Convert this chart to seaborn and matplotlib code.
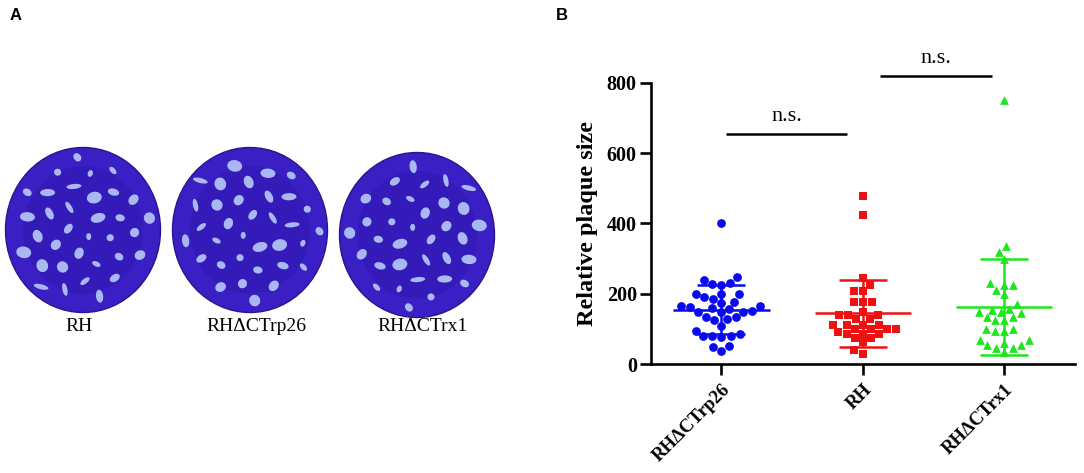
import numpy as np
import pandas as pd
import matplotlib
matplotlib.use("Agg")
import matplotlib.pyplot as plt
from matplotlib.patches import Ellipse
import seaborn as sns

# ---------------- data ----------------
categories = ["RH\u0394CTrp26", "RH", "RH\u0394CTrx1"]
blue_values = [400, 247, 240, 230, 228, 225, 200, 200, 200, 190, 185, 178, 175,
               165, 165, 162, 160, 158, 152, 150, 150, 148, 135, 133, 130, 125,
               110, 95, 85, 80, 80, 80, 78, 53, 48, 38]
red_values = [478, 425, 245, 225, 208, 208, 178, 178, 178, 148, 140, 140, 140,
              128, 128, 112, 112, 112, 112, 100, 100, 100, 100, 92, 87, 87, 87,
              75, 75, 62, 40, 30]
green_values = [750, 335, 320, 300, 230, 225, 225, 210, 200, 170, 158, 155, 148,
                148, 145, 135, 135, 125, 125, 100, 100, 95, 95, 68, 68, 60, 55,
                55, 45, 45, 35]
group_values = [blue_values, red_values, green_values]
colors = ["#0a0aee", "#ee1111", "#1ee61e"]
markers = ["o", "s", "^"]
y_ticks = [0, 200, 400, 600, 800]
sig_x = [(0.03, 0.89), (1.12, 1.91)]
sig_y = [655, 820]
sig_labels = ["n.s.", "n.s."]
plate_labels = ["RH", "RH\u0394CTrp26", "RH\u0394CTrx1"]

df = pd.DataFrame({
    "group": np.concatenate([[c] * len(v) for c, v in zip(categories, group_values)]),
    "value": np.concatenate(group_values).astype(float),
})

# ---------------- figure ----------------
sns.set_theme(style="white")
plt.rcParams["font.family"] = ["Liberation Serif", "DejaVu Serif"]
plt.rcParams["text.color"] = "black"
plt.rcParams["axes.labelcolor"] = "black"
plt.rcParams["xtick.color"] = "black"
plt.rcParams["ytick.color"] = "black"
fig = plt.figure(figsize=(10.84, 4.73), dpi=100)

# ---- panel A: plaque plates (illustration) ----
axA = fig.add_axes([0, 0, 560 / 1084, 1])
axA.set_xlim(0, 560)
axA.set_ylim(473, 0)
axA.axis("off")
plate_centers = [(83, 230), (250, 230), (417, 235)]
for (cx, cy), lab in zip(plate_centers, plate_labels):
    axA.add_patch(Ellipse((cx, cy), 155, 165, facecolor="#3a1fc4",
                          edgecolor="#2a148f", lw=1.0, zorder=1))
    axA.add_patch(Ellipse((cx, cy), 120, 128, facecolor="#3318b4",
                          edgecolor="none", alpha=0.6, zorder=1))
    n = 34
    for k in range(n):
        r = 70 * np.sqrt((k + 0.5) / n)
        th = k * 2.39996 + cx * 0.01
        ex = cx + r * np.cos(th)
        ey = cy + r * 1.05 * np.sin(th)
        w = 5 + (k % 4) * 2.2
        h = 7 + ((k * 7) % 5) * 2.0
        axA.add_patch(Ellipse((ex, ey), w, h, angle=(k * 37) % 180,
                              facecolor="#a9b8f2", edgecolor="none", zorder=2))
    axA.text(cx - 4 if lab == "RH" else cx + 6, 326, lab, ha="center", va="center",
             fontsize=14, color="black")
axA.text(10, 15, "A", fontsize=12, fontweight="bold", ha="left", va="center",
         color="black", family=["Liberation Sans", "DejaVu Sans"])
fig.text(556 / 1084, 1 - 15 / 473, "B", fontsize=12, fontweight="bold",
         ha="left", va="center", color="black",
         family=["Liberation Sans", "DejaVu Sans"])

# ---- panel B: scatter dot plot ----
ax = fig.add_axes([650.7 / 1084, 1 - 364.3 / 473, (1075 - 650.7) / 1084,
                   (364.3 - 82.7) / 473])
for cat, col, mk in zip(categories, colors, markers):
    sns.swarmplot(data=df[df["group"] == cat], x="group", y="value",
                  order=categories, color=col, marker=mk, size=6.3,
                  linewidth=0, ax=ax, zorder=3)

for i, (cat, col) in enumerate(zip(categories, colors)):
    vals = df.loc[df["group"] == cat, "value"].to_numpy()
    m = vals.mean()
    sd = vals.std(ddof=1)
    ax.hlines(m, i - 0.34, i + 0.34, color=col, lw=1.8, zorder=4)
    ax.vlines(i, m - sd, m + sd, color=col, lw=1.8, zorder=4)
    ax.hlines([m - sd, m + sd], i - 0.17, i + 0.17, color=col, lw=1.8, zorder=4)

for (x0, x1), yy, lab in zip(sig_x, sig_y, sig_labels):
    ax.plot([x0, x1], [yy, yy], color="black", lw=1.8, clip_on=False,
            solid_capstyle="butt")
    ax.text((x0 + x1) / 2, yy + 48, lab, ha="center", va="center",
            fontsize=16, color="black", clip_on=False)

ax.set_xlim(-0.5, 2.5)
ax.set_ylim(0, 800)
ax.set_yticks(y_ticks)
ax.set_yticklabels([str(t) for t in y_ticks], fontsize=14.5, fontweight="bold",
                   color="black")
ax.set_xticks(range(len(categories)))
ax.set_xticklabels(categories, rotation=45, ha="right", va="top",
                   rotation_mode="anchor", fontsize=13.5, fontweight="bold",
                   color="black")
ax.set_xlabel("")
ax.set_ylabel("Relative plaque size", fontsize=17.5, fontweight="bold",
              labelpad=6, color="black")
for s in ["top", "right"]:
    ax.spines[s].set_visible(False)
for s in ["left", "bottom"]:
    ax.spines[s].set_linewidth(1.9)
    ax.spines[s].set_color("black")
ax.tick_params(axis="both", direction="out", length=8, width=1.9,
               colors="black", pad=2, left=True, bottom=True)
ax.tick_params(axis="x", pad=4)
ax.set_facecolor("white")
ax.grid(False)

fig.savefig("out.png", dpi=100, facecolor="white")
